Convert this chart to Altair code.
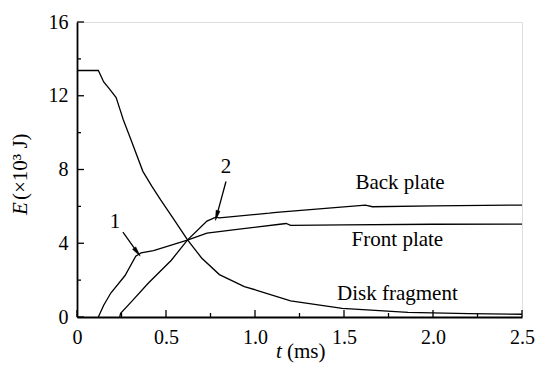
import altair as alt
import pandas as pd

# ---- data ----
disk_t = [0, 0.12, 0.15, 0.18, 0.22, 0.24, 0.26, 0.30, 0.37, 0.42, 0.47, 0.53, 0.62, 0.70, 0.80, 0.94, 1.01, 1.20, 1.49, 1.86, 2.20, 2.50]
disk_e = [13.37, 13.37, 12.75, 12.4, 11.9, 11.3, 10.7, 9.7, 7.9, 7.1, 6.35, 5.5, 4.2, 3.2, 2.3, 1.65, 1.45, 0.88, 0.47, 0.25, 0.18, 0.15]

front_t = [0.12, 0.15, 0.19, 0.27, 0.33, 0.36, 0.43, 0.62, 0.73, 0.90, 1.14, 1.175, 1.20, 1.50, 2.00, 2.50]
front_e = [0.0, 0.64, 1.3, 2.25, 3.3, 3.48, 3.6, 4.17, 4.55, 4.75, 5.03, 5.07, 4.97, 5.0, 5.03, 5.04]

back_t = [0.24, 0.245, 0.305, 0.40, 0.53, 0.62, 0.73, 0.78, 0.80, 1.08, 1.12, 1.62, 1.66, 2.00, 2.50]
back_e = [0.0, 0.2, 0.82, 1.83, 3.08, 4.17, 5.2, 5.42, 5.38, 5.63, 5.68, 6.07, 5.98, 6.03, 6.07]

series_names = ["Disk fragment", "Front plate", "Back plate"]

x_major = [0, 0.5, 1.0, 1.5, 2.0, 2.5]
x_minor = [0.25, 0.75, 1.25, 1.75, 2.25]
y_major = [0, 4, 8, 12, 16]
y_minor = [2, 6, 10, 14]

label_text = ["Back plate", "Front plate", "Disk fragment", "1", "2"]
label_x = [1.815, 1.80, 1.80, 0.213, 0.837]
label_y = [7.25, 4.2, 1.27, 5.14, 8.14]

arrow_x = [0.258, 0.837]
arrow_y = [4.60, 7.35]
arrow_x2 = [0.338, 0.785]
arrow_y2 = [3.52, 5.50]
arrow_angle = [143, 195]

# ---- build tables ----
rows = []
for name, ts, es in zip(series_names, [disk_t, front_t, back_t], [disk_e, front_e, back_e]):
    for i, (t, e) in enumerate(zip(ts, es)):
        rows.append({"series": name, "t": t, "E": e, "i": i})
lines_df = pd.DataFrame(rows)

FONT = "Liberation Serif"
xs = alt.Scale(domain=[0, 2.5], nice=False, zero=False)
ys = alt.Scale(domain=[0, 16], nice=False, zero=False)
W = 445
H = 295

AX = alt.Axis(values=x_major, labelExpr="datum.value == 0 ? '0' : format(datum.value, '.1f')",
              title=None, ticks=False, tickSize=0, labelPadding=10, grid=False, labelFlush=False)
AY = alt.Axis(values=y_major, format="d", title=None, ticks=False, tickSize=0,
              labelPadding=9, grid=False, labelFlush=False)


def X(f):
    return alt.X(f, scale=xs, axis=AX)


def Y(f):
    return alt.Y(f, scale=ys, axis=AY)


lines = alt.Chart(lines_df).mark_line(color="black", strokeWidth=1.3).encode(
    x=X("t:Q"), y=Y("E:Q"), detail="series:N", order="i:Q")

xmaj = alt.Chart(pd.DataFrame({"t": x_major})).mark_rule(color="black", strokeWidth=1.3).encode(
    x=X("t:Q"), y=alt.value(H), y2=alt.value(H - 7))
xmin = alt.Chart(pd.DataFrame({"t": x_minor})).mark_rule(color="black", strokeWidth=1.3).encode(
    x=X("t:Q"), y=alt.value(H), y2=alt.value(H - 4))
ymaj = alt.Chart(pd.DataFrame({"E": y_major})).mark_rule(color="black", strokeWidth=1.3).encode(
    y=Y("E:Q"), x=alt.value(0), x2=alt.value(7))
ymin = alt.Chart(pd.DataFrame({"E": y_minor})).mark_rule(color="black", strokeWidth=1.3).encode(
    y=Y("E:Q"), x=alt.value(0), x2=alt.value(4))

labels = alt.Chart(pd.DataFrame({"txt": label_text, "t": label_x, "E": label_y})).mark_text(
    font=FONT, fontSize=21, color="black", baseline="middle", align="center").encode(
    x=X("t:Q"), y=Y("E:Q"), text="txt:N")

arr_df = pd.DataFrame({"t": arrow_x, "E": arrow_y, "t2": arrow_x2, "E2": arrow_y2, "a": arrow_angle})
arrows = alt.Chart(arr_df).mark_rule(color="black", strokeWidth=1.3).encode(
    x=X("t:Q"), y=Y("E:Q"), x2="t2:Q", y2="E2:Q")
heads = alt.Chart(arr_df).mark_point(
    shape="M0,-1L0.4,1L-0.4,1Z", filled=True, fill="black", stroke="black", strokeWidth=0.5,
    opacity=1, size=100).encode(
    x=alt.X("t2:Q", scale=xs, axis=AX), y=alt.Y("E2:Q", scale=ys, axis=AY),
    angle=alt.Angle("a:Q", scale=None))

# axis titles (mixed italic / upright)
t_it = alt.Chart(pd.DataFrame({"s": ["t"]})).mark_text(
    font=FONT, fontSize=21, fontStyle="italic", color="black", align="left", baseline="alphabetic").encode(
    x=alt.value(199), y=alt.value(336), text="s:N")
t_rest = alt.Chart(pd.DataFrame({"s": ["(ms)"]})).mark_text(
    font=FONT, fontSize=21, color="black", align="left", baseline="alphabetic").encode(
    x=alt.value(210), y=alt.value(336), text="s:N")
e_it = alt.Chart(pd.DataFrame({"s": ["E"]})).mark_text(
    font=FONT, fontSize=21, fontStyle="italic", color="black", align="left", baseline="middle", angle=270).encode(
    x=alt.value(-56), y=alt.value(193), text="s:N")
e_rest = alt.Chart(pd.DataFrame({"s": ["(×10³ J)"]})).mark_text(
    font=FONT, fontSize=21, color="black", align="left", baseline="middle", angle=270).encode(
    x=alt.value(-56), y=alt.value(178), text="s:N")

chart = alt.layer(lines, xmaj, xmin, ymaj, ymin, labels, arrows, heads, t_it, t_rest, e_it, e_rest).properties(
    width=W, height=H,
    autosize=alt.AutoSizeParams(type="none"),
    padding={"left": 69, "top": 14, "right": 13, "bottom": 47},
).configure_view(stroke=None).configure(background="white", font=FONT).configure_axis(
    domainWidth=1.8, domainColor="black", labelFont=FONT, labelFontSize=20, labelColor="black")

chart.save("out.html", embed_options={"renderer": "svg", "actions": False})
